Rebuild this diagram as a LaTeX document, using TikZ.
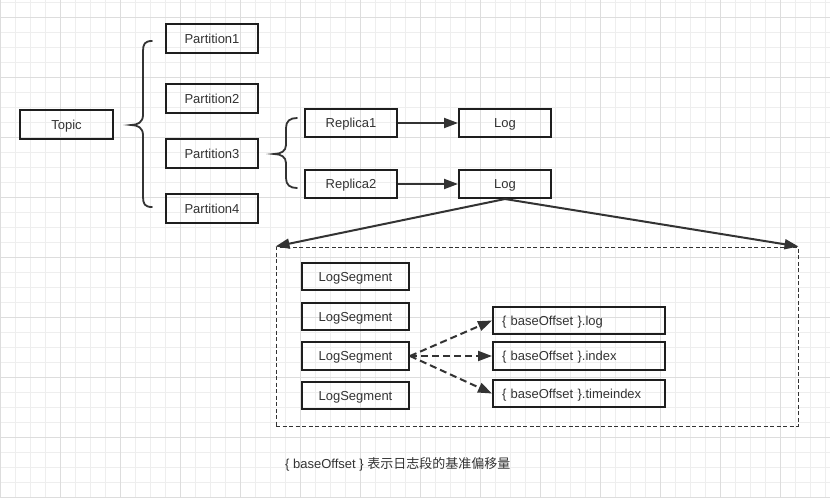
\documentclass[tikz,border=0pt]{standalone}
\usepackage{fontspec}
\setmainfont{Liberation Sans}
\newfontfamily\cjk{Noto Sans CJK SC}
\usetikzlibrary{arrows.meta}
\definecolor{ink}{HTML}{333333}
\definecolor{edge}{HTML}{1E1E1E}
\definecolor{gridminor}{HTML}{EEEEEE}
\definecolor{gridmajor}{HTML}{DDDDDD}
\begin{document}
\begin{tikzpicture}[x=1pt,y=-1pt,
  box/.style={draw=edge,line width=2pt,inner sep=0pt,text=ink,text height=9.3pt,text depth=0pt,font=\fontsize{13}{15}\selectfont},
  filebox/.style={box,align=left,inner xsep=9pt,text width=154pt,minimum height=27pt},
  link/.style={draw=ink,line width=2pt,-{Triangle[length=14pt,width=10pt]}},
  dlink/.style={link,dash pattern=on 7pt off 4pt},
  brace/.style={draw=ink,line width=1.8pt,line cap=round}]
\useasboundingbox (0,0) rectangle (830,498);
\fill[white] (0,0) rectangle (830,498);
% grid
\foreach \i in {0,15,...,825} \draw[gridminor,line width=0.8pt] (\i,0) -- (\i,498);
\foreach \j in {2,17,...,497} \draw[gridminor,line width=0.8pt] (0,\j) -- (830,\j);
\foreach \i in {0,60,...,780} \draw[gridmajor,line width=0.8pt] (\i,0) -- (\i,498);
\foreach \j in {17,77,...,497} \draw[gridmajor,line width=0.8pt] (0,\j) -- (830,\j);

% nodes
\node[box,minimum width=93pt,minimum height=29pt] (topic) at (66.5,124.5) {Topic};
\foreach \n/\y in {1/38.5,2/98.5,3/153.5,4/208.5}
  \node[box,minimum width=92pt,minimum height=29pt] (p\n) at (212,\y) {Partition\n};
\node[box,minimum width=92pt,minimum height=28pt] (r1) at (351,123) {Replica1};
\node[box,minimum width=92pt,minimum height=28pt] (r2) at (351,184) {Replica2};
\node[box,minimum width=92pt,minimum height=28pt] (l1) at (505,123) {Log};
\node[box,minimum width=92pt,minimum height=28pt] (l2) at (505,184) {Log};

% braces
\draw[brace] (152,41) .. controls (145,41) and (143,44) .. (143,51) -- (143,115)
  .. controls (143,122) and (138,125) .. (131,125)
  .. controls (138,125) and (143,128) .. (143,135) -- (143,197)
  .. controls (143,204) and (145,207) .. (152,207);
\draw[brace] (297,118) .. controls (290,118) and (286,121) .. (286,128) -- (286,145)
  .. controls (286,151) and (281,154) .. (274,154)
  .. controls (281,154) and (286,157) .. (286,163) -- (286,178)
  .. controls (286,185) and (290,188) .. (297,188);

\draw[link] (r1) -- (l1);
\draw[link] (r2) -- (l2);

% frame
\node[draw=ink,line width=1pt,dash pattern=on 4pt off 2.5pt,minimum width=522pt,minimum height=179pt,inner sep=0pt] (frame) at (537,336.5) {};
\draw[link] (l2.south) -- (frame.north west);
\draw[link] (l2.south) -- (frame.north east);

\node[box,minimum width=107pt,minimum height=27pt] (s1) at (355.5,276.5) {LogSegment};
\node[box,minimum width=107pt,minimum height=27pt] (s2) at (355.5,316.5) {LogSegment};
\node[box,minimum width=107pt,minimum height=28pt] (s3) at (355.5,356) {LogSegment};
\node[box,minimum width=107pt,minimum height=27pt] (s4) at (355.5,395.5) {LogSegment};
\node[filebox] (f1) at (579,320.5) {\{ baseOffset \}.log};
\node[filebox,minimum height=28pt] (f2) at (579,356) {\{ baseOffset \}.index};
\node[filebox] (f3) at (579,393.5) {\{ baseOffset \}.timeindex};
\draw[dlink] (s3.east) -- (f1.west);
\draw[dlink] (s3.east) -- (f2.west);
\draw[dlink] (s3.east) -- (f3.west);

\node[anchor=west,text=ink,inner sep=0pt,font=\fontsize{13}{15}\selectfont] (cap) at (285,464) {\{ baseOffset \} {\cjk 表示日志段的基准偏移量}};
\end{tikzpicture}
\end{document}
